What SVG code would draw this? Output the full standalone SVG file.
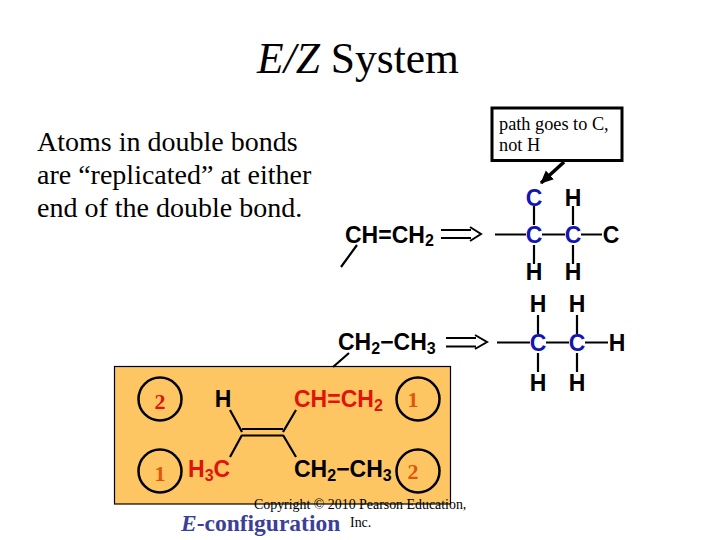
<svg xmlns="http://www.w3.org/2000/svg" width="720" height="540" viewBox="0 0 720 540">
<style>
.t{font-family:"Liberation Serif",serif;fill:#000}
.c{font-family:"Liberation Sans",sans-serif;font-weight:700;font-size:23px;fill:#000}
.m{text-anchor:middle}
.red{fill:#e0140c}
.blue{fill:#1414b4}
.b{stroke:#000;stroke-width:2.2;fill:none}
.num{font-family:"Liberation Serif",serif;font-size:22px;font-weight:700;text-anchor:middle}
.ring{fill:none;stroke:#000;stroke-width:2.5}
</style>
<defs>
<marker id="ah" markerUnits="userSpaceOnUse" markerWidth="14" markerHeight="14" refX="12" refY="7" orient="auto"><path d="M0 1L13 7L0 13Z" fill="#000"/></marker>
</defs>
<rect width="720" height="540" fill="#fff"/>
<g id="title"><text class="t" x="358" y="73" font-size="43.500" text-anchor="middle"><tspan font-style="italic">E/Z</tspan> System</text></g>
<g id="intro">
<text class="t" x="37" y="151" font-size="28">Atoms in double bonds</text>
<text class="t" x="37" y="184" font-size="28">are “replicated” at either</text>
<text class="t" x="37" y="217" font-size="28">end of the double bond.</text>
</g>
<g id="callout">
<rect x="492" y="108" width="130" height="52.500" fill="#fff" stroke="#000" stroke-width="3"/>
<text class="t" x="499" y="130" font-size="18.300">path goes to C,</text>
<text class="t" x="499" y="151" font-size="18.300">not H</text>
</g>
<g id="panel">
<rect x="114.500" y="366.500" width="336" height="137.500" fill="#fdc663" stroke="#000" stroke-width="1.200"/>
</g>
<g id="connectors">
<path d="M564 162L541 183" stroke="#000" stroke-width="3.500" fill="none" marker-end="url(#ah)"/>
<path class="b" d="M357 245L341 267M349 353L333 367"/>
<path d="M441 230H471M441 238H471M470 227L481 234L470 241" fill="none" stroke="#000" stroke-width="2"/>
<path d="M446 338H476M446 346.500H476M475 335L487 342L475 349" fill="none" stroke="#000" stroke-width="2"/>
<path class="b" d="M534 206V225M573 206V225M534 245V264M573 245V264M495 234.500H526M542 234.500H565M581 234.500H602"/>
<path class="b" d="M538 315V334M577 315V334M538 353V372M577 353V372M497 342.500H530M546 342.500H569M585 342.500H608"/>
<path class="b" d="M230 410L242 432M296 410L283 432M230 457L242 435M296 457L283 435M242 429H283M242 435.500H283"/>
</g>
<g id="top-formula"><text class="c" x="345" y="243">CH=CH<tspan font-size="16" dy="3">2</tspan></text></g>
<g id="top-tree">
<text class="c m blue" x="534" y="206">C</text><text class="c m" x="573" y="206">H</text>
<text class="c m blue" x="534" y="243">C</text><text class="c m blue" x="573" y="243">C</text><text class="c m" x="611" y="243">C</text>
<text class="c m" x="534" y="280">H</text><text class="c m" x="573" y="280">H</text>
</g>
<g id="bottom-formula"><text class="c" x="338" y="350">CH<tspan font-size="16" dy="4">2</tspan><tspan dy="-4">−CH</tspan><tspan font-size="16" dy="4">3</tspan></text></g>
<g id="bottom-tree">
<text class="c m" x="538" y="312">H</text><text class="c m" x="577" y="312">H</text>
<text class="c m blue" x="538" y="351">C</text><text class="c m blue" x="577" y="351">C</text><text class="c m" x="617" y="351">H</text>
<text class="c m" x="538" y="391">H</text><text class="c m" x="577" y="391">H</text>
</g>
<g id="alkene">
<text class="c m" x="223" y="407">H</text>
<text class="c red" x="294" y="407">CH=CH<tspan font-size="16" dy="4">2</tspan></text>
<text class="c red" x="188" y="477">H<tspan font-size="16" dy="4">3</tspan><tspan dy="-4">C</tspan></text>
<text class="c" x="294" y="477">CH<tspan font-size="16" dy="4">2</tspan><tspan dy="-4">−CH</tspan><tspan font-size="16" dy="4">3</tspan></text>
</g>
<g id="rank-tl"><circle class="ring" cx="160" cy="399" r="21.500"/><text class="num red" x="160" y="409">2</text></g>
<g id="rank-bl"><circle class="ring" cx="160" cy="471" r="21.500"/><text class="num" fill="#e0560c" x="160" y="481">1</text></g>
<g id="rank-tr"><circle class="ring" cx="418" cy="399" r="21.500"/><text class="num" fill="#e0560c" x="413" y="407">1</text></g>
<g id="rank-br"><circle class="ring" cx="418" cy="471" r="21.500"/><text class="num" fill="#e0560c" x="413" y="479">2</text></g>
<g id="footer">
<text class="t" x="254" y="509" font-size="13.900">Copyright © 2010 Pearson Education,</text>
<text class="t" x="350" y="527" font-size="13.900">Inc.</text>
<text class="t" x="181" y="531" font-size="23.500" font-weight="700" style="fill:#3c3f9a"><tspan font-style="italic">E</tspan>-configuration</text>
</g>
</svg>
